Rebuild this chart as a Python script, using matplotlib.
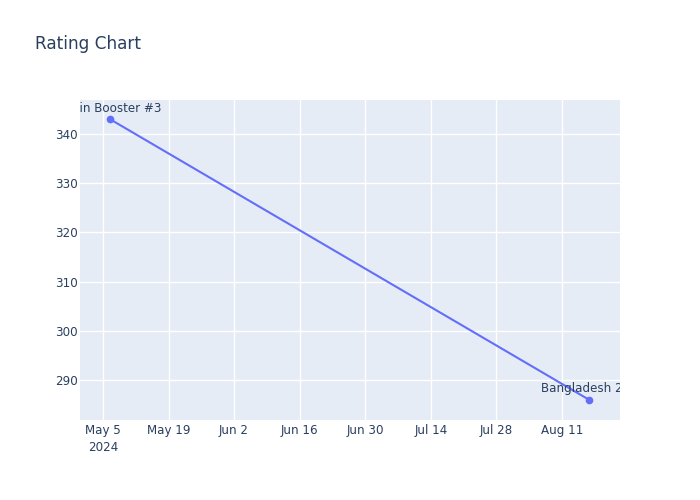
import matplotlib
matplotlib.use("Agg")
import matplotlib.pyplot as plt
import pandas as pd

# data
dates = pd.to_datetime(["2024-05-06 12:00", "2024-08-16 20:00"])
ratings = [343, 286]
labels = ["Brain Booster #3", "Bangladesh 2nd"]

tick_dates = pd.date_range("2024-05-05", "2024-08-11", freq="14D")
tick_labels = [d.strftime("%b %-d") for d in tick_dates]
tick_labels[0] = tick_labels[0] + "\n2024"

txt = "#2a3f5f"
plt.rcParams["font.family"] = ["DejaVu Sans"]

fig = plt.figure(figsize=(7, 5), dpi=100)
ax = fig.add_axes([80/700, 80/500, 540/700, 320/500])
ax.set_facecolor("#E5ECF6")
for s in ax.spines.values():
    s.set_visible(False)

ax.plot(dates, ratings, color="#636EFA", lw=1.5, marker="o", ms=4.5, zorder=3)
for d, r, lab in zip(dates, ratings, labels):
    ax.annotate(lab, (d, r), xytext=(0, 5.4), textcoords="offset points",
                ha="center", va="baseline", fontsize=8.6, color=txt,
                annotation_clip=False, clip_on=True)

ax.set_xlim(pd.Timestamp("2024-04-30 02:00"), pd.Timestamp("2024-08-23 10:00"))
ax.set_ylim(281.9, 346.9)
ax.set_xticks(tick_dates)
ax.set_xticklabels(tick_labels, linespacing=1.35)
ax.set_yticks([290, 300, 310, 320, 330, 340])
ax.grid(True, color="white", lw=1)
ax.set_axisbelow(True)
ax.tick_params(length=0, labelsize=8.6, labelcolor=txt)
ax.tick_params(axis="x", pad=3)
ax.tick_params(axis="y", pad=1.8)

fig.text(35/700, 1 - 44/500, "Rating Chart", fontsize=12.2, color=txt, va="center")

fig.savefig("out.png", dpi=100)
